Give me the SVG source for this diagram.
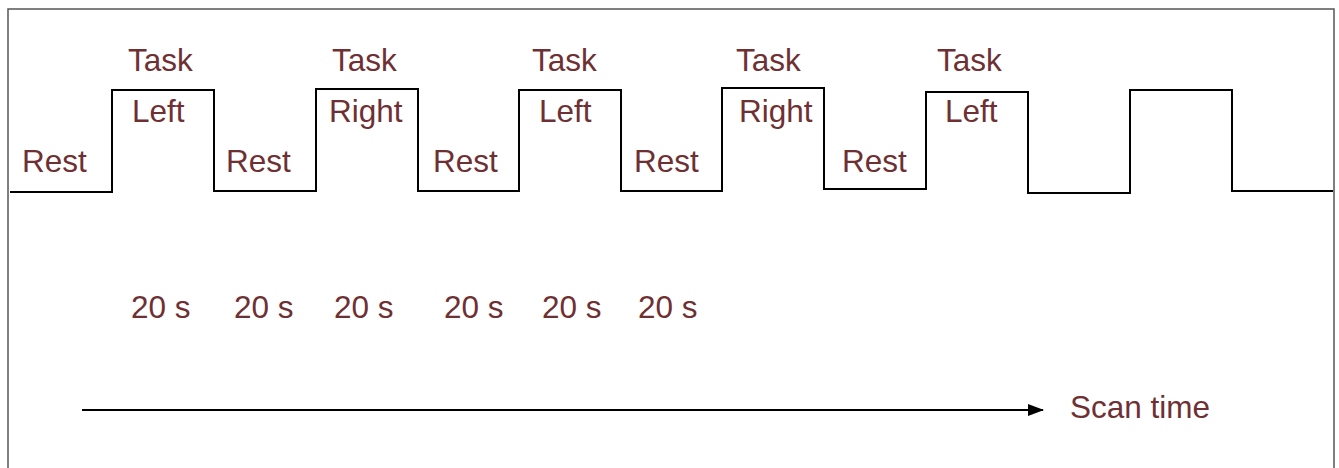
<svg xmlns="http://www.w3.org/2000/svg" width="1339" height="468" viewBox="0 0 1339 468">
  <style>
    .lbl { font-family: "Liberation Sans", Arial, sans-serif; font-size: 31.5px; fill: #6e3033; }
    .wave { fill: none; stroke: #000; stroke-width: 2; }
    .frame { fill: none; stroke: #555; stroke-width: 1.5; }
    .axis { stroke: #000; stroke-width: 2; }
  </style>
  <defs>
    <marker id="arrowhead" markerWidth="16" markerHeight="12" refX="15" refY="6" orient="auto" markerUnits="userSpaceOnUse">
      <path d="M0,0 L16,6 L0,12 Z" fill="#000"/>
    </marker>
  </defs>
  <rect width="1339" height="468" fill="#fff"/>
  <!-- outer frame (open at the bottom) -->
  <path class="frame" d="M8,468 V9 H1334 V468"/>

  <!-- block-design waveform and time axis -->
  <g id="connectors">
    <path class="wave" d="M10,192 H112 V90 H214 V191 H316 V89 H418 V191 H519 V90 H621 V191 H722 V88 H824 V189 H926 V92 H1028 V193 H1130 V90 H1232 V191 H1333"/>
    <line class="axis" x1="82" y1="410" x2="1043" y2="410" marker-end="url(#arrowhead)"/>
  </g>

  <g id="rest1"><text class="lbl" x="22" y="172">Rest</text></g>
  <g id="task1"><text class="lbl" x="128" y="71">Task</text><text class="lbl" x="132" y="122">Left</text></g>
  <g id="rest2"><text class="lbl" x="226" y="172">Rest</text></g>
  <g id="task2"><text class="lbl" x="332" y="71">Task</text><text class="lbl" x="329" y="122">Right</text></g>
  <g id="rest3"><text class="lbl" x="433" y="172">Rest</text></g>
  <g id="task3"><text class="lbl" x="532" y="71">Task</text><text class="lbl" x="539" y="122">Left</text></g>
  <g id="rest4"><text class="lbl" x="634" y="172">Rest</text></g>
  <g id="task4"><text class="lbl" x="736" y="71">Task</text><text class="lbl" x="739" y="122">Right</text></g>
  <g id="rest5"><text class="lbl" x="842" y="172">Rest</text></g>
  <g id="task5"><text class="lbl" x="937" y="71">Task</text><text class="lbl" x="945" y="122">Left</text></g>

  <g id="durations">
    <text class="lbl" x="131" y="318">20 s</text>
    <text class="lbl" x="234" y="318">20 s</text>
    <text class="lbl" x="334" y="318">20 s</text>
    <text class="lbl" x="444" y="318">20 s</text>
    <text class="lbl" x="542" y="318">20 s</text>
    <text class="lbl" x="638" y="318">20 s</text>
  </g>

  <g id="scan-time"><text class="lbl" x="1070" y="418">Scan time</text></g>
</svg>
